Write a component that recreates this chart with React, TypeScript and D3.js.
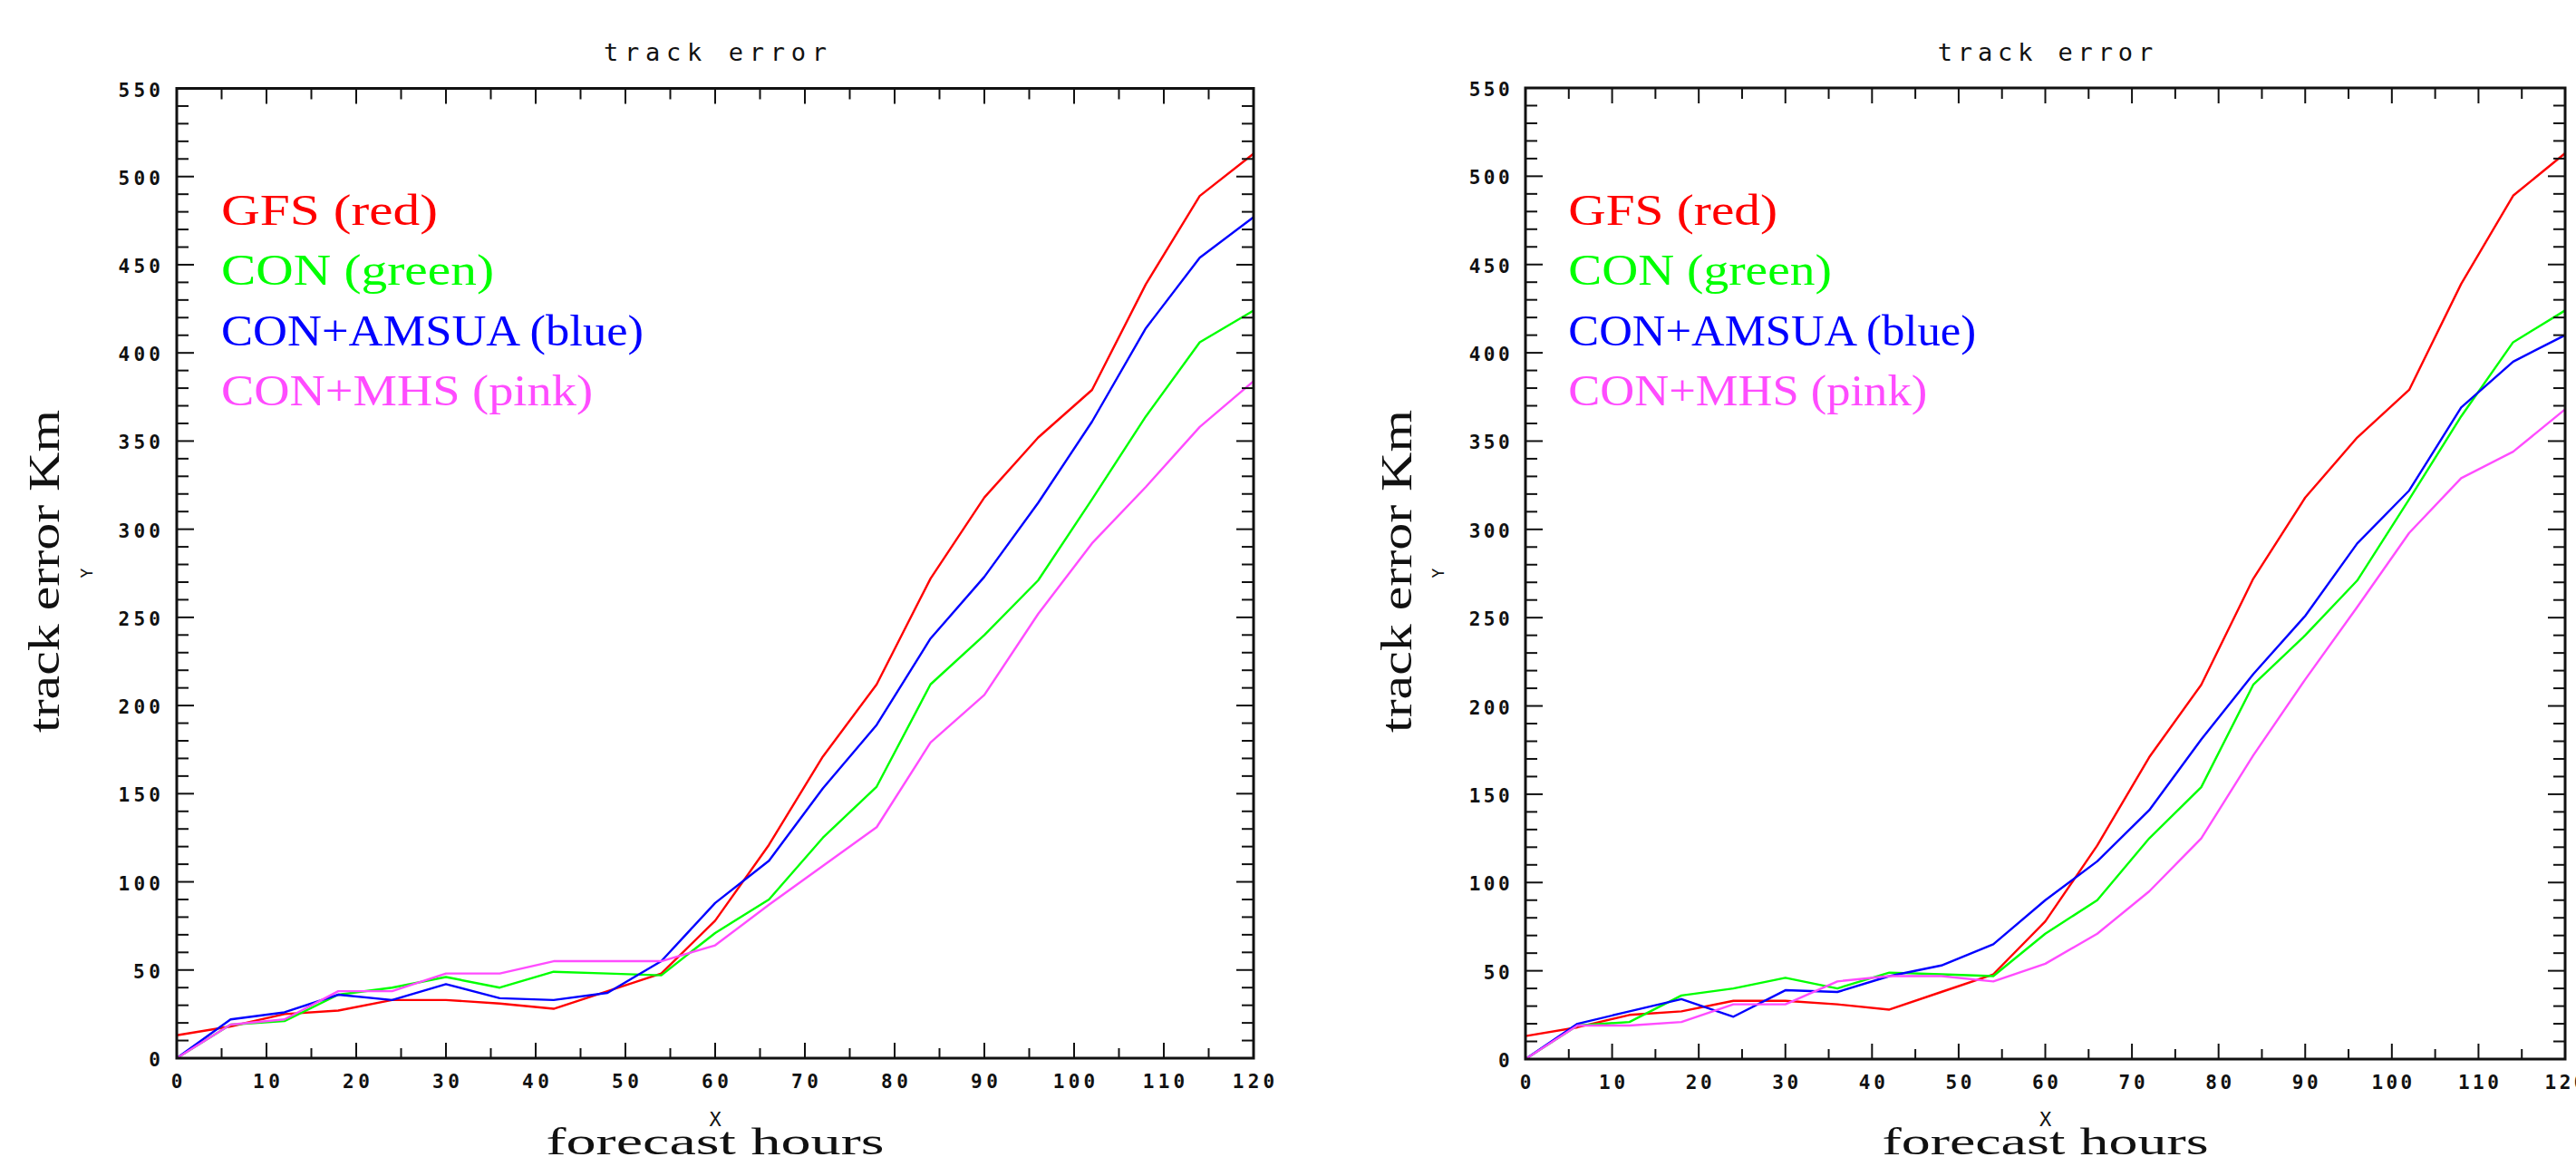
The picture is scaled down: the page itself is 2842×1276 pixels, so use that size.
import React, { useEffect } from "react";
import * as d3 from "d3";

// ---- data ----
const HOURS = [0, 6, 12, 18, 24, 30, 36, 42, 48, 54, 60, 66, 72, 78, 84, 90, 96, 102, 108, 114, 120];
const GFS = [13, 18, 25, 27, 33, 33, 31, 28, 38, 48, 78, 121, 171, 212, 272, 318, 352, 379, 439, 489, 513];
const CON = [0, 19, 21, 36, 40, 46, 40, 49, 48, 47, 71, 90, 125, 154, 212, 240, 271, 317, 364, 406, 424];
const AMSUA_LEFT = [0, 22, 26, 36, 33, 42, 34, 33, 37, 55, 88, 112, 153, 189, 238, 273, 315, 361, 414, 454, 477];
const MHS_LEFT = [0, 19, 22, 38, 38, 48, 48, 55, 55, 55, 64, 87, 109, 131, 179, 206, 252, 292, 324, 358, 384];
const AMSUA_RIGHT = [0, 20, 27, 34, 24, 39, 38, 47, 53, 65, 90, 112, 141, 181, 218, 251, 292, 322, 369, 395, 410];
const MHS_RIGHT = [0, 19, 19, 21, 31, 31, 44, 47, 47, 44, 54, 71, 95, 125, 172, 215, 256, 298, 329, 344, 368];

const X_TICKS = [0, 10, 20, 30, 40, 50, 60, 70, 80, 90, 100, 110, 120];
const Y_TICKS = [0, 50, 100, 150, 200, 250, 300, 350, 400, 450, 500, 550];
const LEGEND = ["GFS (red)", "CON (green)", "CON+AMSUA (blue)", "CON+MHS (pink)"];
const COLORS = ["#ff0000", "#00ff00", "#0000ff", "#ff4cff"];
const TITLE = "track error";
const X_LABEL = "forecast hours";
const Y_LABEL = "track error Km";

const W = 2842;
const H = 1276;
const MONO = "'DejaVu Sans Mono', 'Liberation Mono', monospace";
const SERIF = "'Liberation Serif', 'DejaVu Serif', serif";
const INK = "#111";

type PanelProps = { x0: number; x1: number; yTop: number; yBot: number; series: number[][] };

function Panel({ x0, x1, yTop, yBot, series }: PanelProps) {
  const k = (x1 - x0) / 1188;
  const x = d3.scaleLinear().domain([0, 120]).range([x0, x1]);
  const y = d3.scaleLinear().domain([0, 550]).range([yBot, yTop]);
  const line = d3
    .line<number>()
    .x((_, i) => x(HOURS[i]))
    .y((d) => y(d));
  const cx = (x0 + x1) / 2;
  const minorX = d3.range(0, 121, 5);
  const minorY = d3.range(0, 551, 10);
  const tickLen = (n: number) => n * 16.5 - 3;

  return (
    <g>
      {/* title */}
      <text x={cx} y={67} fontFamily={MONO} fontSize={27} textAnchor="middle"
        textLength={246 * k} lengthAdjust="spacing" fill={INK}>{TITLE}</text>

      {/* data lines */}
      {series.map((s, i) => (
        <path key={i} d={line(s) || ""} fill="none" stroke={COLORS[i]} strokeWidth={2.4}
          strokeLinejoin="round" />
      ))}

      {/* ticks */}
      {minorX.map((h) => {
        const major = h % 10 === 0;
        return (
          <g key={"x" + h} stroke={INK} strokeWidth={2}>
            <line x1={x(h)} x2={x(h)} y1={yBot} y2={yBot - (major ? 17 : 11)} />
            <line x1={x(h)} x2={x(h)} y1={yTop} y2={yTop + (major ? 17 : 12)} />
          </g>
        );
      })}
      {minorY.map((v) => {
        const major = v % 50 === 0;
        return (
          <g key={"y" + v} stroke={INK} strokeWidth={2}>
            <line x1={x0} x2={x0 + (major ? 19 : 13)} y1={y(v)} y2={y(v)} />
            <line x1={x1} x2={x1 - (major ? 19 : 13)} y1={y(v)} y2={y(v)} />
          </g>
        );
      })}

      {/* frame */}
      <rect x={x0} y={yTop} width={x1 - x0} height={yBot - yTop} fill="none" stroke={INK} strokeWidth={3} />

      {/* tick labels */}
      {X_TICKS.map((t) => (
        <text key={"xl" + t} x={x(t)} y={yBot + 33} fontFamily={MONO} fontSize={21} fontWeight="bold"
          textAnchor="middle" textLength={tickLen(String(t).length) * k} lengthAdjust="spacing"
          fill={INK}>{String(t)}</text>
      ))}
      {Y_TICKS.map((t) => (
        <text key={"yl" + t} x={x0 - 18 * k} y={y(t) + 9} fontFamily={MONO} fontSize={21} fontWeight="bold"
          textAnchor="end" textLength={tickLen(String(t).length) * k} lengthAdjust="spacing"
          fill={INK}>{String(t)}</text>
      ))}

      {/* legend */}
      {LEGEND.map((l, i) => (
        <text key={l} x={x0 + 49 * k} y={248 + i * 66.3} fontFamily={SERIF} fontSize={48}
          textLength={[239, 301, 466, 410][i] * k} lengthAdjust="spacingAndGlyphs"
          fill={COLORS[i]}>{l}</text>
      ))}

      {/* axis labels */}
      <text x={cx} y={1242} fontFamily={MONO} fontSize={22} textAnchor="middle" fill={INK}>X</text>
      <text x={cx} y={1273} fontFamily={SERIF} fontSize={42} textAnchor="middle"
        textLength={373 * k} lengthAdjust="spacingAndGlyphs" fill={INK}>{X_LABEL}</text>
      <text transform={`translate(${x0 - 93 * k},632) rotate(-90)`} fontFamily={MONO} fontSize={18}
        textAnchor="middle" fill={INK}>Y</text>
      <text transform={`translate(${x0 - 130 * k},630) rotate(-90)`} fontFamily={SERIF} fontSize={48}
        textAnchor="middle" textLength={356} lengthAdjust="spacingAndGlyphs" fill={INK}>{Y_LABEL}</text>
    </g>
  );
}

export default function App() {
  useEffect(() => {
    document.body.style.margin = "0";
    document.body.style.overflow = "hidden";
  }, []);
  return (
    <div style={{ position: "absolute", left: 0, top: 0 }}>
      <svg width={W} height={H} viewBox={`0 0 ${W} ${H}`} style={{ display: "block", background: "#fff" }}>
        <rect width={W} height={H} fill="#fff" />
        <Panel x0={195} x1={1383} yTop={97.5} yBot={1167} series={[GFS, CON, AMSUA_LEFT, MHS_LEFT]} />
        <Panel x0={1683} x1={2830} yTop={97} yBot={1168} series={[GFS, CON, AMSUA_RIGHT, MHS_RIGHT]} />
      </svg>
    </div>
  );
}
